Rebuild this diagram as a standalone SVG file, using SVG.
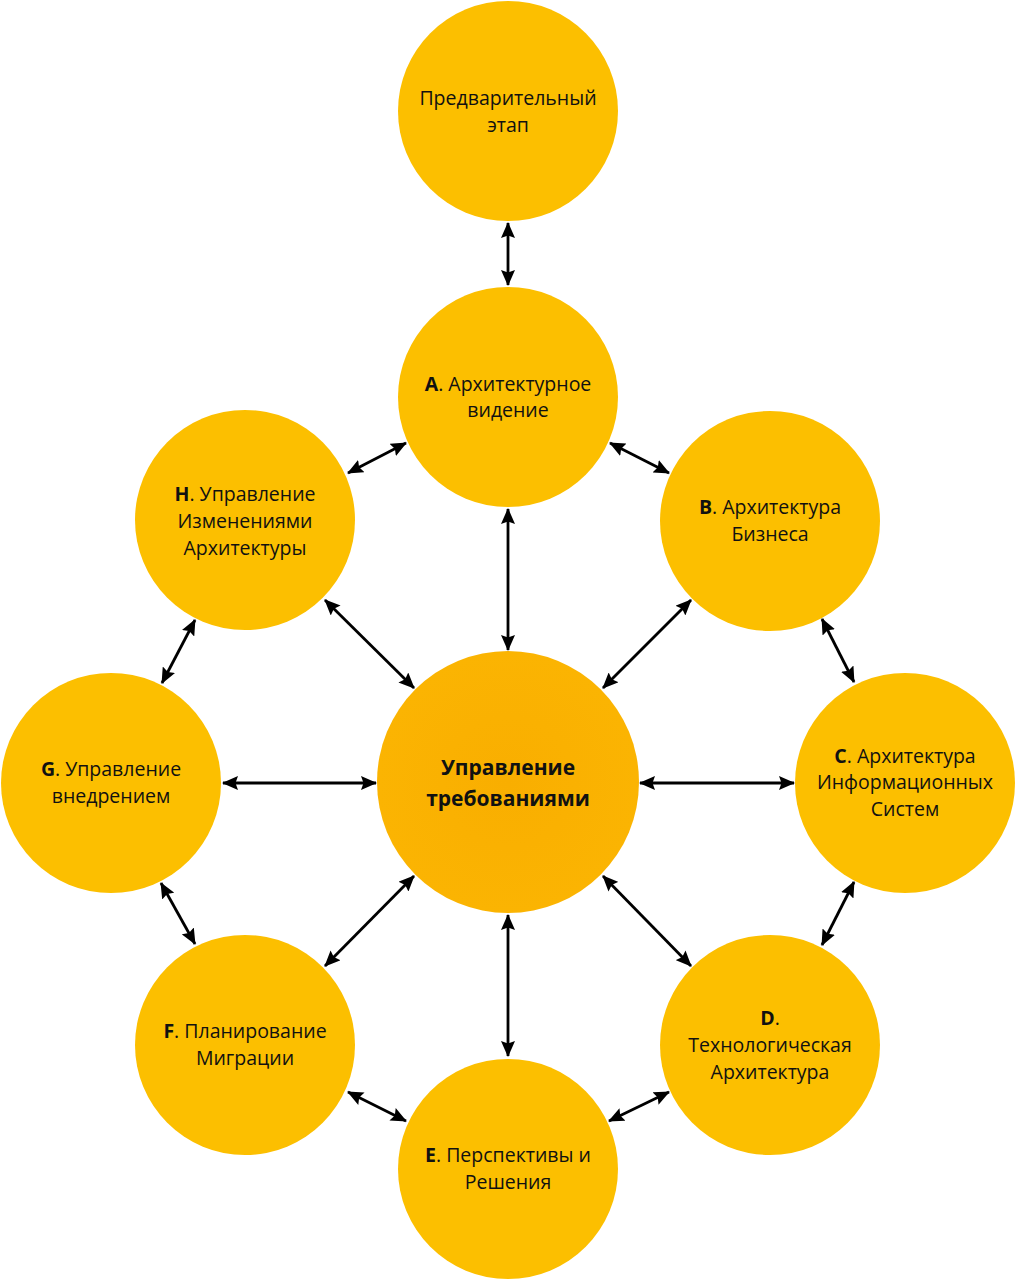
<svg xmlns="http://www.w3.org/2000/svg" width="1016" height="1280" viewBox="0 0 1016 1280">
<style>
.n{fill:#FCBF00}
.c{fill:url(#cg)}
text{font-family:"Open Sans","Noto Sans","Liberation Sans",sans-serif;font-size:19.5px;fill:#111;text-anchor:middle}
.b{font-weight:bold}
.ct{font-size:21px;font-weight:bold}
.e line{stroke:#000;stroke-width:2.8;marker-start:url(#ah);marker-end:url(#ah)}
</style>
<defs>
<radialGradient id="cg" cx="0.5" cy="0.5" r="0.5">
<stop offset="0" stop-color="#F9AE00"/>
<stop offset="1" stop-color="#FBB402"/>
</radialGradient>
<marker id="ah" viewBox="0 0 16 14" refX="15" refY="7" markerWidth="16" markerHeight="14" markerUnits="userSpaceOnUse" orient="auto-start-reverse">
<path d="M0,0 L16,7 L0,14 L2.5,7 z" fill="#000"/>
</marker>
</defs>
<g class="e" id="connectors">
<line x1="508" y1="223" x2="508" y2="285"/>
<line x1="508" y1="509" x2="508" y2="650"/>
<line x1="406" y1="443" x2="348" y2="473"/>
<line x1="610" y1="443" x2="669" y2="473"/>
<line x1="325" y1="600" x2="414" y2="688"/>
<line x1="691" y1="600" x2="603" y2="688"/>
<line x1="195" y1="620" x2="162" y2="683"/>
<line x1="822" y1="619" x2="854" y2="682"/>
<line x1="223" y1="783" x2="376" y2="783"/>
<line x1="640" y1="783" x2="794" y2="783"/>
<line x1="161" y1="883" x2="195" y2="944"/>
<line x1="854" y1="882" x2="822" y2="945"/>
<line x1="414" y1="876" x2="325" y2="966"/>
<line x1="603" y1="876" x2="691" y2="966"/>
<line x1="508" y1="915" x2="508" y2="1056"/>
<line x1="348" y1="1092" x2="406" y2="1121"/>
<line x1="669" y1="1092" x2="609" y2="1121"/>
</g>
<g id="node-pre">
<circle class="n" cx="508" cy="111" r="110"/>
<text x="508" y="105">Предварительный</text>
<text x="508" y="132">этап</text>
</g>
<g id="node-a">
<circle class="n" cx="508" cy="397" r="110"/>
<text x="508" y="391"><tspan class="b">A</tspan>. Архитектурное</text>
<text x="508" y="417">видение</text>
</g>
<g id="node-b">
<circle class="n" cx="770" cy="521" r="110"/>
<text x="770" y="514"><tspan class="b">B</tspan>. Архитектура</text>
<text x="770" y="541">Бизнеса</text>
</g>
<g id="node-c">
<circle class="n" cx="905" cy="783" r="110"/>
<text x="905" y="763"><tspan class="b">C</tspan>. Архитектура</text>
<text x="905" y="789">Информационных</text>
<text x="905" y="816">Систем</text>
</g>
<g id="node-d">
<circle class="n" cx="770" cy="1045" r="110"/>
<text x="770" y="1025"><tspan class="b">D</tspan>.</text>
<text x="770" y="1052">Технологическая</text>
<text x="770" y="1079">Архитектура</text>
</g>
<g id="node-e">
<circle class="n" cx="508" cy="1169" r="110"/>
<text x="508" y="1162"><tspan class="b">E</tspan>. Перспективы и</text>
<text x="508" y="1189">Решения</text>
</g>
<g id="node-f">
<circle class="n" cx="245" cy="1045" r="110"/>
<text x="245" y="1038"><tspan class="b">F</tspan>. Планирование</text>
<text x="245" y="1065">Миграции</text>
</g>
<g id="node-g">
<circle class="n" cx="111" cy="783" r="110"/>
<text x="111" y="776"><tspan class="b">G</tspan>. Управление</text>
<text x="111" y="803">внедрением</text>
</g>
<g id="node-h">
<circle class="n" cx="245" cy="520" r="110"/>
<text x="245" y="501"><tspan class="b">H</tspan>. Управление</text>
<text x="245" y="528">Изменениями</text>
<text x="245" y="555">Архитектуры</text>
</g>
<g id="node-center">
<circle class="c" cx="508" cy="782" r="131"/>
<text class="ct" x="508" y="775">Управление</text>
<text class="ct" x="508" y="806">требованиями</text>
</g>
</svg>
